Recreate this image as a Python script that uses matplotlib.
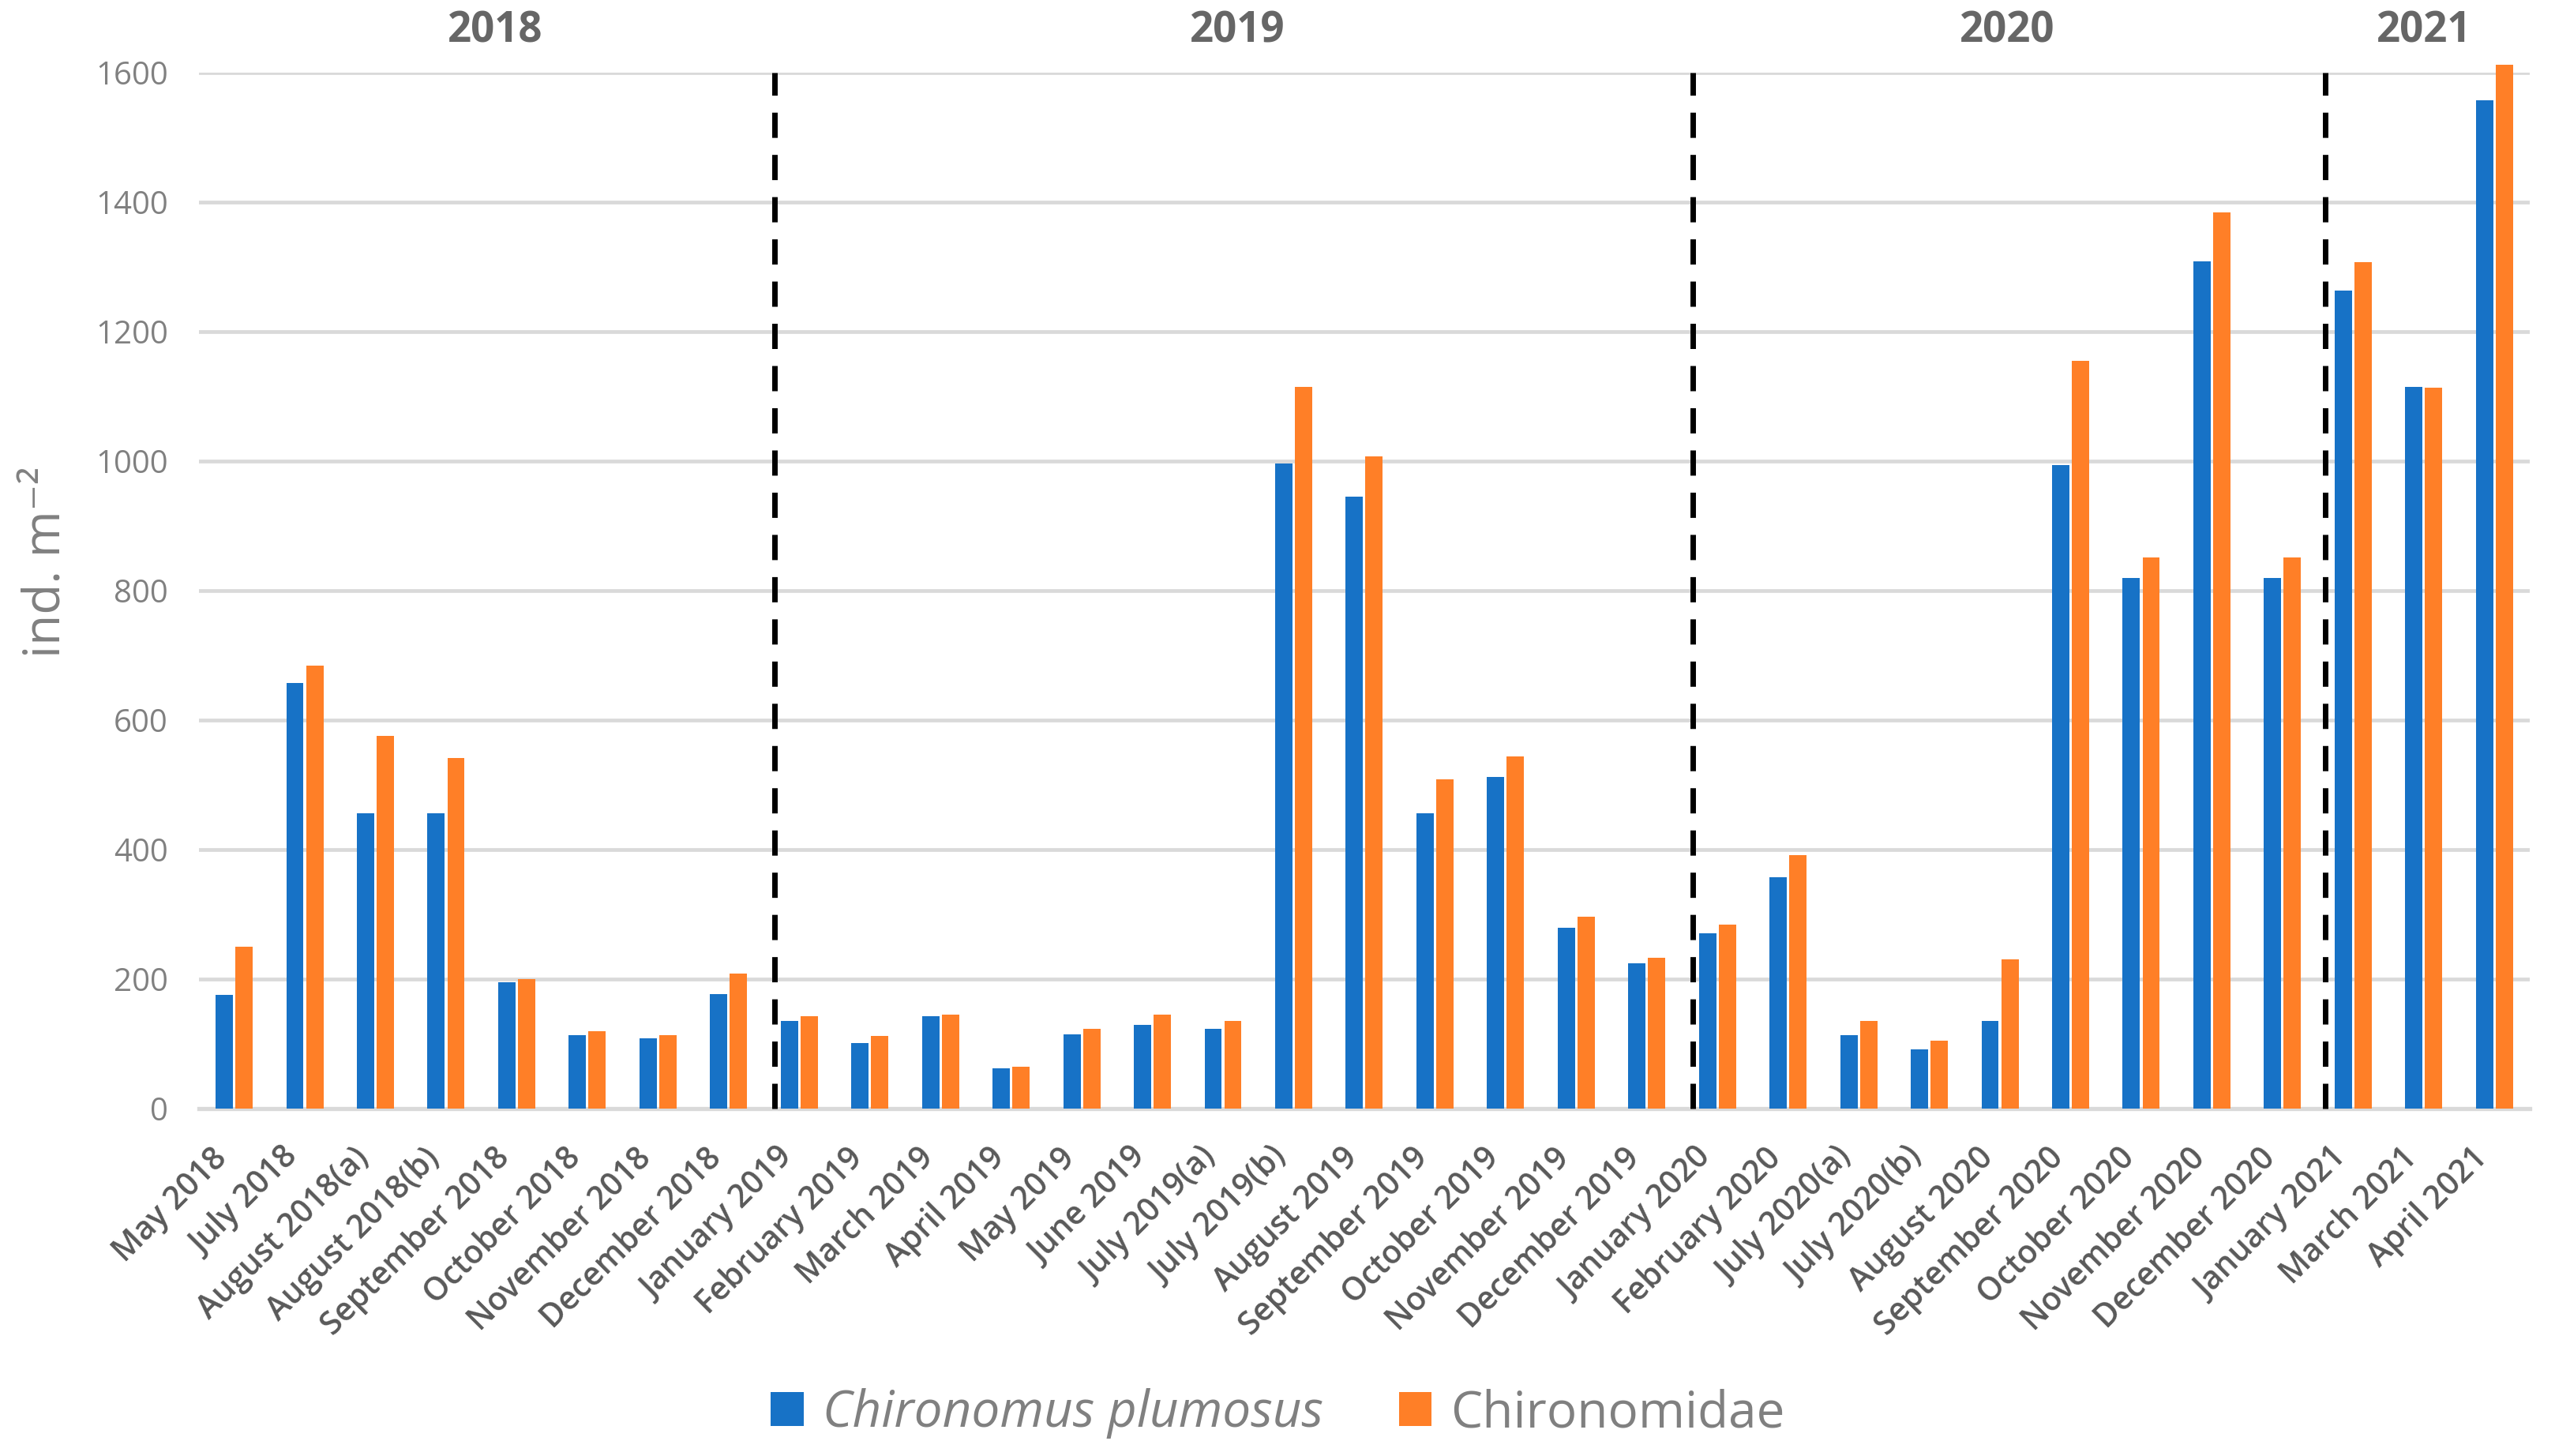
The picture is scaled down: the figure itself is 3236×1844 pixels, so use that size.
import matplotlib
matplotlib.use('Agg')
import matplotlib.pyplot as plt
import numpy as np

# ── Data ──────────────────────────────────────────
months = ['May 2018', 'July 2018', 'August 2018(a)', 'August 2018(b)', 'September 2018',
          'October 2018', 'November 2018', 'December 2018',
          'January 2019', 'February 2019', 'March 2019', 'April 2019', 'May 2019', 'June 2019',
          'July 2019(a)', 'July 2019(b)', 'August 2019', 'September 2019', 'October 2019',
          'November 2019', 'December 2019',
          'January 2020', 'February 2020', 'July 2020(a)', 'July 2020(b)', 'August 2020',
          'September 2020', 'October 2020', 'November 2020', 'December 2020',
          'January 2021', 'March 2021', 'April 2021']

plumosus = [176, 658, 456, 456, 195, 113, 109, 177,
            136, 101, 143, 62, 115, 129, 123, 997, 945, 456, 512, 279, 224,
            271, 357, 114, 91, 135, 994, 820, 1309, 820,
            1264, 1115, 1558]

chironomidae = [250, 684, 576, 541, 200, 119, 113, 208,
                143, 112, 145, 65, 123, 145, 136, 1115, 1007, 509, 544, 296, 233,
                284, 391, 135, 105, 230, 1155, 851, 1384, 851,
                1307, 1113, 1613]

years = ['2018', '2019', '2020', '2021']
year_label_x = [3.7, 14.2, 25.1, 31.0]
year_breaks = [7.65, 20.65, 29.6]
y_ticks = [0, 200, 400, 600, 800, 1000, 1200, 1400, 1600]

# ── Colours ───────────────────────────────────────
BLUE = '#1772C6'
ORANGE = '#FF7F27'
GRID = '#D9D9D9'
DARK = '#595959'
MID = '#808080'

plt.rcParams['font.family'] = ['Open Sans', 'DejaVu Sans']

fig = plt.figure(figsize=(16.185, 9.22), dpi=200)
ax = fig.add_axes([0.0778, 0.2386, 0.912, 0.7114])

x = np.arange(len(months))
bw = 0.245
ax.bar(x - 0.14, plumosus, width=bw, color=BLUE, zorder=3, clip_on=False,
       label='Chironomus plumosus')
ax.bar(x + 0.14, chironomidae, width=bw, color=ORANGE, zorder=3, clip_on=False,
       label='Chironomidae')

# ── Year separators ───────────────────────────────
for xb in year_breaks:
    ax.plot([xb, xb], [0, 1600], color='black', lw=2.5, dashes=(4.6, 3.1),
            zorder=4, clip_on=False)

for yl, xl in zip(years, year_label_x):
    ax.text(xl, 1.04, yl, transform=ax.get_xaxis_transform(), ha='center', va='center',
            fontsize=19, fontweight='bold', color='#666666')

# ── Axes ──────────────────────────────────────────
ax.set_xlim(-0.5, len(months) - 0.5)
ax.set_ylim(0, 1600)
ax.set_yticks(y_ticks)
ax.set_yticklabels([str(v) for v in y_ticks])
ax.yaxis.grid(True, color=GRID, lw=1.7, zorder=0)
ax.set_axisbelow(True)
for s in ['top', 'right', 'left']:
    ax.spines[s].set_visible(False)
ax.spines['bottom'].set_color(GRID)
ax.spines['bottom'].set_linewidth(1.9)
ax.tick_params(axis='y', length=0, labelsize=14.5, colors=MID, pad=14)
ax.set_xticks(x)
ax.set_xticklabels(months, rotation=45, ha='right', rotation_mode='default',
                   fontweight='semibold')
ax.tick_params(axis='x', length=0, labelsize=14.6, colors=DARK, pad=15)

fig.text(60 / 3237, 1 - 712 / 1844, 'ind. m⁻²', rotation=90, ha='center', va='center',
         fontsize=23, color=MID)

leg = fig.legend(loc='center', bbox_to_anchor=(0.5, 1 - 1790 / 1844), ncol=2, frameon=False,
                 fontsize=23, handlelength=0.65, handleheight=0.65, handletextpad=0.38,
                 columnspacing=1.5, labelcolor=MID)
leg.get_texts()[0].set_fontstyle('italic')

fig.savefig('out.png', dpi=200, facecolor='white')
